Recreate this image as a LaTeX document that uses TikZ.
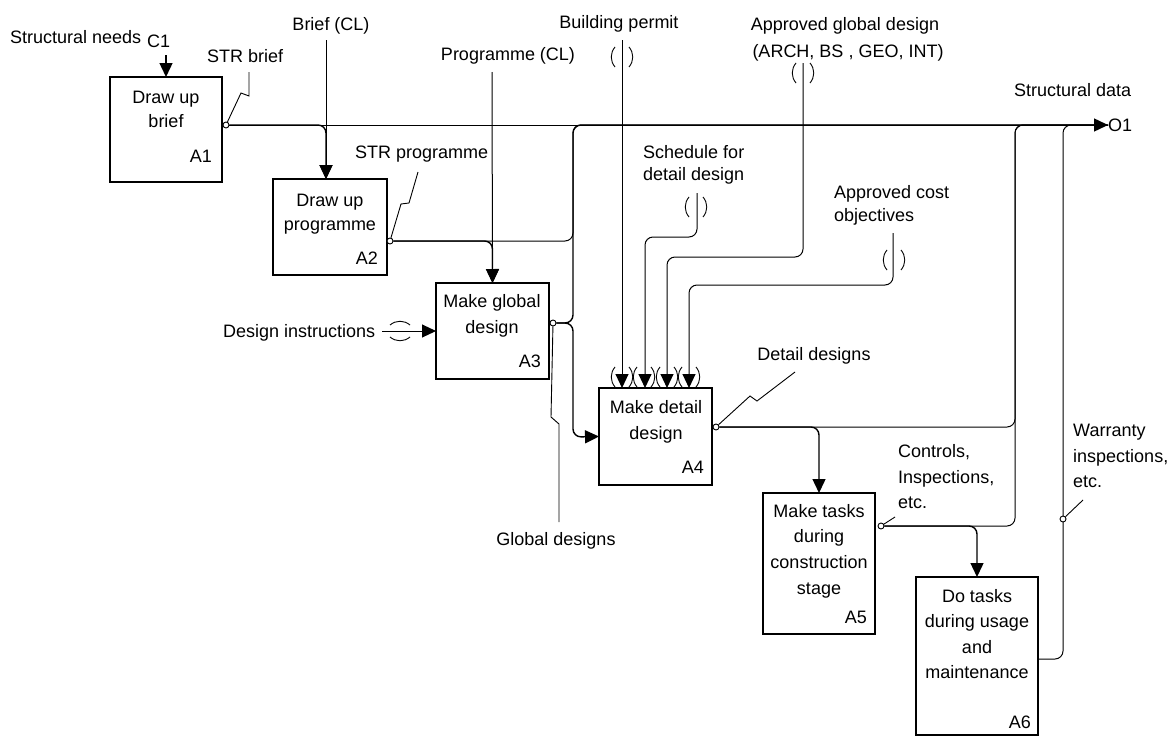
\documentclass[tikz,border=0pt]{standalone}
\usepackage{fontspec}
\setmainfont{Liberation Sans}
\usetikzlibrary{arrows.meta}
\begin{document}
\begin{tikzpicture}[x=1pt,y=-1pt,
  box/.style={draw, line width=1.4pt, inner sep=0pt, outer sep=0pt},
  txt/.style={inner sep=0pt, font=\fontsize{18}{22}\selectfont},
  thk/.style={line width=1.4pt, rounded corners=8pt},
  thn/.style={line width=1pt, rounded corners=8pt},
  sq/.style={line width=0.9pt},
  arr/.style={-{Triangle[length=14pt,width=13pt]}},
  dot/.style={draw, line width=0.9pt, fill=white, circle, inner sep=0pt, minimum size=6pt},
  tunline/.style={line width=0.9pt},
  tunv/.pic={\draw[tunline] (-7,-10) .. controls (-12,-4) and (-12,4) .. (-7,10);
             \draw[tunline] (7,-10) .. controls (12,-4) and (12,4) .. (7,10);},
  tunh/.pic={\draw[tunline] (-10,-6) .. controls (-4,-11) and (4,-11) .. (10,-6);
             \draw[tunline] (-10,6) .. controls (-4,11) and (4,11) .. (10,6);}
]
\useasboundingbox (0,0) rectangle (1174,736);

% ---------- boxes ----------
\node[box, minimum width=112pt, minimum height=105pt] (A1) at (166,129.5) {};
\node[box, minimum width=114pt, minimum height=96pt]  (A2) at (330,227) {};
\node[box, minimum width=113pt, minimum height=96pt]  (A3) at (492.5,331) {};
\node[box, minimum width=113pt, minimum height=97pt]  (A4) at (655.5,436.5) {};
\node[box, minimum width=112pt, minimum height=141pt] (A5) at (819,563.5) {};
\node[box, minimum width=122pt, minimum height=158pt] (A6) at (977,656) {};

% box texts
\foreach \t [count=\i from 0] in {Draw up, brief}
  \node[txt, anchor=base] (A1t\i) at (166,103+24*\i) {\t};
\node[txt, anchor=base east] (A1n) at (212,162) {A1};
\foreach \t [count=\i from 0] in {Draw up, programme}
  \node[txt, anchor=base] (A2t\i) at (330,206+24*\i) {\t};
\node[txt, anchor=base east] (A2n) at (378,264) {A2};
\foreach \t [count=\i from 0] in {Make global, design}
  \node[txt, anchor=base] (A3t\i) at (492,307+26*\i) {\t};
\node[txt, anchor=base east] (A3n) at (541,367) {A3};
\foreach \t [count=\i from 0] in {Make detail, design}
  \node[txt, anchor=base] (A4t\i) at (656,413+26*\i) {\t};
\node[txt, anchor=base east] (A4n) at (704,473) {A4};
\foreach \t [count=\i from 0] in {Make tasks, during, construction, stage}
  \node[txt, anchor=base] (A5t\i) at (819,517+25.7*\i) {\t};
\node[txt, anchor=base east] (A5n) at (867,623) {A5};
\foreach \t [count=\i from 0] in {Do tasks, during usage, and, maintenance}
  \node[txt, anchor=base] (A6t\i) at (977,602+25.5*\i) {\t};
\node[txt, anchor=base east] (A6n) at (1031,728) {A6};

% ---------- labels ----------
\node[txt, anchor=base west] (lsn) at (10,43) {Structural needs};
\node[txt, anchor=base west] (lc1) at (147,47) {C1};
\node[txt, anchor=base] (lbrief) at (331,30) {Brief (CL)};
\node[txt, anchor=base west] (lstrb) at (207,62) {STR brief};
\node[txt, anchor=base] (lprog) at (508,60) {Programme (CL)};
\node[txt, anchor=base] (lperm) at (619,28) {Building permit};
\node[txt, anchor=base] (lag1) at (845,30) {Approved global design};
\node[txt, anchor=base] (lag2) at (848,57) {(ARCH, BS , GEO, INT)};
\node[txt, anchor=base west] (lsd) at (1014,96) {Structural data};
\node[txt, anchor=west] (O1) at (1108,125) {O1};
\node[txt, anchor=base west] (lstrp) at (355,158) {STR programme};
\node[txt, anchor=base west] (lsch1) at (643,158) {Schedule for};
\node[txt, anchor=base west] (lsch2) at (643,180) {detail design};
\node[txt, anchor=base west] (lac1) at (834,198) {Approved cost};
\node[txt, anchor=base west] (lac2) at (834,221) {objectives};
\node[txt, anchor=base west] (ldi) at (223,337) {Design instructions};
\node[txt, anchor=base] (lgd) at (556,545) {Global designs};
\node[txt, anchor=base] (ldd) at (814,360) {Detail designs};
\node[txt, anchor=base west] (lct1) at (898,457) {Controls,};
\node[txt, anchor=base west] (lct2) at (898,483) {Inspections,};
\node[txt, anchor=base west] (lct3) at (898,508) {etc.};
\node[txt, anchor=base west] (lw1) at (1073,436) {Warranty};
\node[txt, anchor=base west] (lw2) at (1073,462) {inspections,};
\node[txt, anchor=base west] (lw3) at (1073,487) {etc.};

% ---------- connection points ----------
\coordinate (c1in) at (166,55);
\coordinate (briefin) at (326,40);
\coordinate (progin) at (492,72);
\coordinate (permin) at (622,40);
\coordinate (schin) at (697,193);
\coordinate (glin) at (803,63);
\coordinate (costin) at (893,233);
\coordinate (diin) at (382,331);
\coordinate (a6o) at (1038,659);

\node[dot] (a1o) at (226,125) {};
\node[dot] (a2o) at (390,241) {};
\node[dot] (a3o) at (553,323) {};
\node[dot] (a4o) at (716,427) {};
\node[dot] (a5o) at (881,526) {};

% ---------- connectors ----------
\draw[thk, arr] (c1in) -- (A1.north);

% brief & A1 output
\draw[thn] (a1o) -- (1090,125);
\draw[thn, arr] (briefin) -- (briefin |- A2.north);
\draw[thk, arr] (a1o) -| (briefin |- A2.north);

% A2 output
\draw[thn, arr] (progin) -- (A3.north);
\draw[thk, arr] (a2o) -| (A3.north);
\draw[thn] (a2o) -| (573,125) -- (O1.west);

% A3 output
\draw[thk, arr] (a3o) -- (573,323) -- (573,125) -- (O1.west);
\draw[thk, arr] (a3o) -- (573,323) -- (573,437) -- (A4.west);

% design instructions
\draw[thn, arr] (diin) -- (A3.west);
\pic at (400,331) {tunh};

% controls into A4
\draw[thn, arr] (permin) -- (permin |- A4.north);
\draw[thn, arr] (schin) -- (697,237) -- (645,237) -- (645,0 |- A4.north);
\draw[thn, arr] (glin) -- (803,257) -- (667,257) -- (667,0 |- A4.north);
\draw[thn, arr] (costin) -- (893,285) -- (689,285) -- (689,0 |- A4.north);
\pic at (622,57) {tunv};
\pic at (696,207) {tunv};
\pic at (803,73) {tunv};
\pic at (894,260) {tunv};
\foreach \xx in {622,644,667,689} \pic at (\xx,377) {tunv};

% A4 output
\draw[thk, arr] (a4o) -| (A5.north);
\draw[thn] (a4o) -- (1015,427) -- (1015,125) -- (O1.west);

% A5 output
\draw[thk, arr] (a5o) -| (A6.north);
\draw[thn] (a5o) -- (1015,526) -- (1015,125) -- (O1.west);

% A6 output
\draw[thn] (a6o) -- (1063,659) -- (1063,125) -- (O1.west);
\node[dot] (wdot) at (1063,519) {};

% squiggles
\draw[sq] (249,72) -- (249,96) -- (241,93) -- (a1o);
\draw[sq] (418,172) -- (409,203) -- (401,204) -- (a2o);
\draw[sq] (a3o) -- (551,417) -- (559,424) -- (559,522);
\draw[sq] (795,372) -- (757,401) -- (750,396) -- (a4o);
\draw[sq] (895,517) -- (a5o);
\draw[sq] (1083,500) -- (wdot);
\end{tikzpicture}
\end{document}
